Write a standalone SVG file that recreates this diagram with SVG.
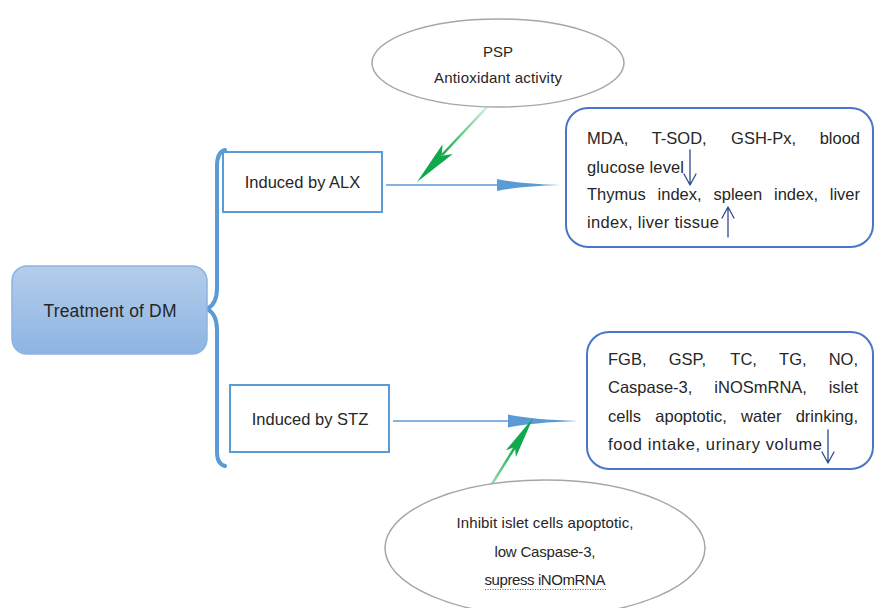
<svg xmlns="http://www.w3.org/2000/svg" width="874" height="608" viewBox="0 0 874 608">
<defs>
<linearGradient id="rootFill" x1="0" y1="0" x2="0" y2="1">
<stop offset="0" stop-color="#b4cdea"/>
<stop offset="1" stop-color="#8db4e2"/>
</linearGradient>
<linearGradient id="gTop" gradientUnits="userSpaceOnUse" x1="488" y1="106" x2="441" y2="156">
<stop offset="0" stop-color="#d4f2dc"/>
<stop offset="1" stop-color="#0fa84a"/>
</linearGradient>
<linearGradient id="gBot" gradientUnits="userSpaceOnUse" x1="482" y1="500" x2="515" y2="447">
<stop offset="0" stop-color="#d4f2dc"/>
<stop offset="1" stop-color="#0fa84a"/>
</linearGradient>
<style>
text{font-family:"Liberation Sans",Arial,sans-serif;fill:#262626}
.box{fill:#fff;stroke:#5b9bd5;stroke-width:2}
.rbox{fill:#fff;stroke:#4a76c9;stroke-width:2}
.ell{fill:#fff;stroke:#a6a6a6;stroke-width:1.5}
.t16{font-size:16.5px}
.t15{font-size:15px}
.mid{text-anchor:middle}
.end{text-anchor:end}
.line{stroke:#5b9bd5;stroke-width:1.5;fill:none}
.head{fill:#5b9bd5}
.tarr{stroke:#2f4b8c;stroke-width:1.3;fill:none;stroke-linecap:round;stroke-linejoin:round}
.green{fill:#0fa84a}
</style>
</defs>

<g id="connectors">
<path d="M225,150 Q217,152 217,166 L217,288 Q217,304 207,309 Q217,314 217,330 L217,452 Q217,464 225,466" fill="none" stroke="#5b9bd5" stroke-width="4" stroke-linecap="round"/>
<line class="line" x1="386" y1="185" x2="540" y2="185"/>
<path class="head" d="M497,179 Q520,184 561,185 Q520,186 497,191 Z"/>
<line class="line" x1="393" y1="421" x2="555" y2="421"/>
<path class="head" d="M508,414.5 Q532,419.5 578,421 Q532,422.5 508,427.5 Z"/>
<line x1="488" y1="106" x2="442" y2="155" stroke="url(#gTop)" stroke-width="2.5"/>
<polygon class="green" points="417,182 452.8,153.9 441.6,155.7 442.6,144.3"/>
<line x1="482" y1="500" x2="515" y2="447" stroke="url(#gBot)" stroke-width="2.5"/>
<polygon class="green" points="533,418 505.7,450.5 515,446.9 515.9,456.9"/>
</g>

<g id="root">
<rect x="12" y="266" width="195" height="88" rx="15" fill="url(#rootFill)" stroke="#8db4e2" stroke-width="1.5"/>
<text x="110" y="317" class="mid" style="font-size:17.5px" textLength="133">Treatment of DM</text>
</g>

<g id="alx">
<rect class="box" x="223" y="152" width="159" height="60"/>
<text x="302.5" y="188" class="mid t16">Induced by ALX</text>
</g>

<g id="stz">
<rect class="box" x="230" y="385" width="159" height="67"/>
<text x="310" y="425" class="mid t16">Induced by STZ</text>
</g>

<g id="psp">
<ellipse class="ell" cx="498" cy="63" rx="126" ry="44"/>
<text x="498" y="57" class="mid t15">PSP</text>
<text x="498" y="83" class="mid t15" textLength="128">Antioxidant activity</text>
</g>

<g id="inhibit">
<ellipse class="ell" cx="545" cy="548" rx="160" ry="68"/>
<text x="545" y="528" class="mid t15" textLength="177">Inhibit islet cells apoptotic,</text>
<text x="545" y="557" class="mid t15" textLength="101">low Caspase-3,</text>
<text x="545" y="585" class="mid t15" textLength="121">supress iNOmRNA</text>
<line x1="485" y1="589.5" x2="606" y2="589.5" stroke="#e03030" stroke-width="1" stroke-dasharray="1,1.5"/>
</g>

<g id="alx-result">
<rect class="rbox" x="566" y="108" width="307" height="139" rx="22"/>
<text y="144" class="t16"><tspan x="587">MDA,</tspan><tspan x="651.7">T-SOD,</tspan><tspan x="731.1">GSH-Px,</tspan></text>
<text x="860" y="144" class="t16 end">blood</text>
<text x="587" y="173" class="t16" textLength="97">glucose level</text>
<text y="200" class="t16"><tspan x="587">Thymus</tspan><tspan x="657.6">index,</tspan><tspan x="713.5">spleen</tspan><tspan x="774">index,</tspan></text>
<text x="860" y="200" class="t16 end">liver</text>
<text x="587" y="228" class="t16" textLength="132">index, liver tissue</text>
<path class="tarr" d="M690,150 L690,185 M684,174 L690,185 L696,174"/>
<path class="tarr" d="M728,237 L728,207 M722,218 L728,207 L734,218"/>
</g>

<g id="stz-result">
<rect class="rbox" x="587" y="332" width="286" height="137" rx="22"/>
<text y="365" class="t16"><tspan x="608">FGB,</tspan><tspan x="668.7">GSP,</tspan><tspan x="730.3">TC,</tspan><tspan x="779.1">TG,</tspan></text>
<text x="858" y="365" class="t16 end">NO,</text>
<text y="393" class="t16"><tspan x="608">Caspase-3,</tspan><tspan x="714.3">iNOSmRNA,</tspan></text>
<text x="858" y="393" class="t16 end">islet</text>
<text y="422" class="t16"><tspan x="608">cells</tspan><tspan x="655.3">apoptotic,</tspan><tspan x="741.1">water</tspan></text>
<text x="858" y="422" class="t16 end">drinking,</text>
<text x="608" y="450" class="t16" textLength="214">food intake, urinary volume</text>
<path class="tarr" d="M828,430 L828,463 M822,452 L828,463 L834,452"/>
</g>
</svg>
